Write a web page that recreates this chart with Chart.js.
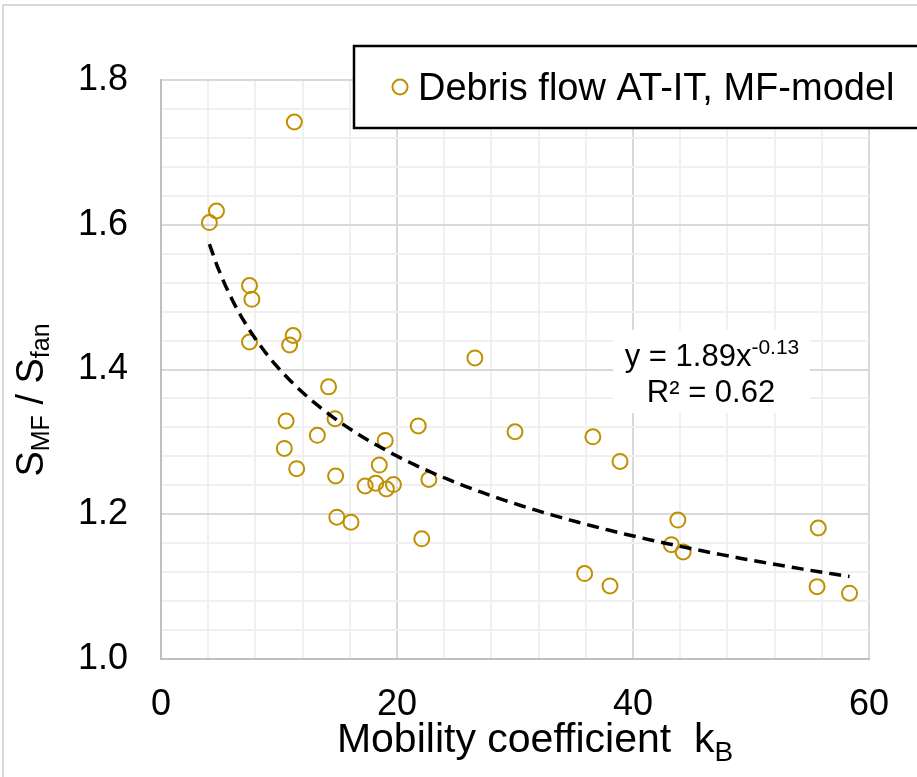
<!DOCTYPE html>
<html>
<head>
<meta charset="utf-8">
<script src="https://cdn.jsdelivr.net/npm/chart.js@4.4.1/dist/chart.umd.min.js"></script>
<style>
  html, body { margin: 0; padding: 0; background: #fff; }
  #wrap { width: 917px; height: 777px; }
</style>
</head>
<body>
<div id="wrap"><canvas id="chart" width="917" height="777"></canvas></div>
<script>
// data
const kB = [4.1, 4.7, 11.3, 7.5, 7.7, 7.5, 11.2, 10.9, 26.6, 14.2, 14.75, 10.6, 13.25, 19.0,
  21.8, 30.0, 36.6, 38.9, 10.45, 11.5, 14.8, 18.5, 17.3, 18.2, 19.1, 19.7, 22.7, 14.9,
  16.1, 22.1, 43.8, 43.25, 44.25, 55.7, 35.9, 38.05, 55.6, 58.35];
const ratio = [1.603, 1.619, 1.742, 1.516, 1.497, 1.438, 1.447, 1.434, 1.416, 1.376, 1.332, 1.329, 1.309, 1.302,
  1.322, 1.314, 1.307, 1.273, 1.291, 1.263, 1.253, 1.268, 1.239, 1.243, 1.235, 1.241, 1.248, 1.196,
  1.189, 1.166, 1.192, 1.158, 1.148, 1.181, 1.118, 1.101, 1.100, 1.091];
const xTicks = [0, 20, 40, 60];
const yTicks = [1.0, 1.2, 1.4, 1.6, 1.8];
const seriesName = "Debris flow AT-IT, MF-model";
// power trendline y = a * x^b, as printed on the chart
const fitA = 1.89;
const fitB = -0.13;
const fitR2 = 0.62;

const FONT = "'Liberation Sans', Arial, sans-serif";
const gold = "#BF9000";

// trendline spans the data range
const xMin = Math.min(...kB), xMax = Math.max(...kB);
const trend = [];
for (let i = 0; i <= 80; i++) {
  const x = xMin + (xMax - xMin) * i / 80;
  trend.push({ x: x, y: fitA * Math.pow(x, fitB) });
}

const points = kB.map((x, i) => ({ x: x, y: ratio[i] }));

function isMajor(v, list) {
  return list.some(t => Math.abs(t - v) < 1e-6);
}

// draw text made of runs (normal / sub / superscript)
function runWidth(ctx, parts) {
  let w = 0;
  parts.forEach(p => { ctx.font = p.size + "px " + FONT; w += ctx.measureText(p.t).width; });
  return w;
}
function drawRuns(ctx, parts, x, y) {
  ctx.textAlign = "left";
  ctx.textBaseline = "alphabetic";
  parts.forEach(p => {
    ctx.font = p.size + "px " + FONT;
    ctx.fillText(p.t, x, y + (p.dy || 0));
    x += ctx.measureText(p.t).width;
  });
}

const extras = {
  id: "extras",
  afterDraw(chart) {
    const ctx = chart.ctx;
    ctx.save();
    // outer frame
    ctx.strokeStyle = "#D9D9D9";
    ctx.lineWidth = 2;
    ctx.strokeRect(3, 5, 2000, 2000);

    // legend box
    ctx.fillStyle = "#fff";
    ctx.fillRect(354, 46, 600, 82);
    ctx.strokeStyle = "#000";
    ctx.lineWidth = 2.5;
    ctx.strokeRect(354, 46, 600, 82);
    ctx.beginPath();
    ctx.arc(400, 87, 7.5, 0, Math.PI * 2);
    ctx.strokeStyle = gold;
    ctx.lineWidth = 2;
    ctx.stroke();
    ctx.fillStyle = "#000";
    drawRuns(ctx, [{ t: seriesName, size: 38 }], 418, 100);

    // trendline label
    ctx.fillStyle = "#fff";
    ctx.fillRect(613, 330, 197, 83);
    ctx.fillStyle = "#000";
    const eq = [
      { t: "y = " + fitA.toFixed(2) + "x", size: 31 },
      { t: fitB.toFixed(2), size: 21, dy: -12 }
    ];
    drawRuns(ctx, eq, 712 - runWidth(ctx, eq) / 2, 366);
    const r2 = [{ t: "R\u00B2 = " + fitR2.toFixed(2), size: 31 }];
    drawRuns(ctx, r2, 711 - runWidth(ctx, r2) / 2, 402);

    // x axis title
    const xt = [
      { t: "Mobility coefficient  k", size: 41 },
      { t: "B", size: 28, dy: 9 }
    ];
    drawRuns(ctx, xt, 535 - runWidth(ctx, xt) / 2, 752);

    // y axis title (rotated)
    const yt = [
      { t: "S", size: 38 },
      { t: "MF", size: 25, dy: 6 },
      { t: " / S", size: 38 },
      { t: "fan", size: 25, dy: 6 }
    ];
    ctx.translate(43, 400);
    ctx.rotate(-Math.PI / 2);
    drawRuns(ctx, yt, -runWidth(ctx, yt) / 2, 0);
    ctx.restore();
  }
};

new Chart(document.getElementById("chart"), {
  type: "scatter",
  data: {
    datasets: [
      {
        label: "trend",
        data: trend,
        showLine: true,
        borderColor: "#000",
        borderWidth: 3.5,
        borderDash: [12, 7],
        pointRadius: 0,
        tension: 0,
        order: 0
      },
      {
        label: seriesName,
        data: points,
        pointStyle: "circle",
        pointRadius: 7.5,
        pointBorderWidth: 2,
        pointBorderColor: gold,
        pointBackgroundColor: "rgba(0,0,0,0)",
        order: 1
      }
    ]
  },
  options: {
    responsive: false,
    animation: false,
    layout: { padding: { left: 0, right: 48, top: 80, bottom: 0 } },
    plugins: { legend: { display: false }, tooltip: { enabled: false } },
    scales: {
      x: {
        type: "linear",
        min: 0,
        max: 60,
        afterFit: (s) => { s.height = 118; },
        border: { color: "#BFBFBF", width: 2 },
        grid: {
          drawTicks: false,
          lineWidth: 2,
          color: (c) => isMajor(c.tick.value, xTicks) ? "#D9D9D9" : "#F0F0F0"
        },
        ticks: {
          stepSize: 4,
          autoSkip: false,
          maxRotation: 0,
          padding: 24,
          color: "#000",
          font: { family: FONT, size: 36 },
          callback: (v) => isMajor(v, xTicks) ? String(Math.round(v)) : ""
        }
      },
      y: {
        type: "linear",
        min: 1.0,
        max: 1.8,
        afterFit: (s) => { s.width = 161; },
        border: { color: "#BFBFBF", width: 2 },
        grid: {
          drawTicks: false,
          lineWidth: 2,
          color: (c) => isMajor(c.tick.value, yTicks) ? "#D9D9D9" : "#F0F0F0"
        },
        ticks: {
          stepSize: 0.04,
          autoSkip: false,
          padding: 33,
          color: "#000",
          font: { family: FONT, size: 36 },
          callback: (v) => isMajor(v, yTicks) ? v.toFixed(1) : ""
        }
      }
    }
  },
  plugins: [extras]
});
</script>
</body>
</html>
